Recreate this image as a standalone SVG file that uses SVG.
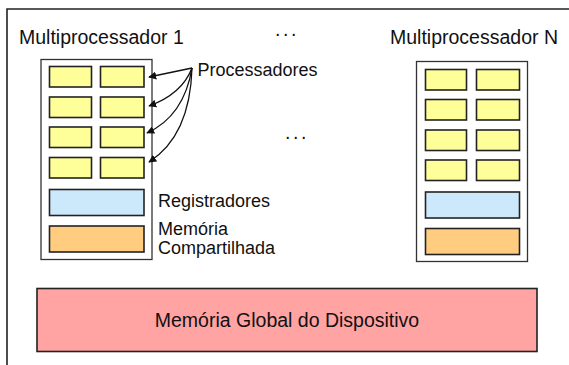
<svg xmlns="http://www.w3.org/2000/svg" width="569" height="365" viewBox="0 0 569 365">
  <style>
    text { font-family: "Liberation Sans", Arial, sans-serif; fill: #111; }
    .title { font-size: 19.5px; }
    .label { font-size: 18px; }
    .dots { font-size: 19.5px; letter-spacing: 2.6px; }
    .frame { fill: none; stroke: #222; stroke-width: 1.6; }
    .mp { fill: #fff; stroke: #333; stroke-width: 1.3; }
    .core { fill: #ffff99; stroke: #222; stroke-width: 1.6; }
    .reg { fill: #cce9fb; stroke: #222; stroke-width: 1.6; }
    .shm { fill: #ffcc80; stroke: #222; stroke-width: 1.6; }
    .glob { fill: #ffa3a3; stroke: #222; stroke-width: 1.6; }
    .arc { fill: none; stroke: #111; stroke-width: 1.3; marker-end: url(#head); }
  </style>
  <defs>
    <marker id="head" viewBox="0 0 10 10" refX="9" refY="5" markerWidth="8" markerHeight="8" markerUnits="userSpaceOnUse" orient="auto">
      <path d="M0,0 L10,5 L0,10 z" fill="#111"/>
    </marker>
  </defs>

  <!-- device frame (open on right and bottom) -->
  <path class="frame" d="M7,365 V9 H569"/>

  <!-- streaming multiprocessor 1 -->
  <g id="mp1">
    <text class="title" x="19" y="44">Multiprocessador 1</text>
    <rect class="mp" x="41" y="59.5" width="111" height="200"/>
    <rect class="core" x="49.5" y="66.5" width="42" height="20.5"/>
    <rect class="core" x="100.5" y="66.5" width="43.5" height="20.5"/>
    <rect class="core" x="49.5" y="97" width="42" height="20.5"/>
    <rect class="core" x="100.5" y="97" width="43.5" height="20.5"/>
    <rect class="core" x="49.5" y="127" width="42" height="20.5"/>
    <rect class="core" x="100.5" y="127" width="43.5" height="20.5"/>
    <rect class="core" x="49.5" y="157.5" width="42" height="20.5"/>
    <rect class="core" x="100.5" y="157.5" width="43.5" height="20.5"/>
    <rect class="reg" x="49.5" y="189.5" width="94.5" height="26"/>
    <rect class="shm" x="49.5" y="226" width="94.5" height="26"/>
  </g>

  <!-- labels beside multiprocessor 1 -->
  <g id="labels">
    <text class="label" x="197.5" y="76">Processadores</text>
    <text class="label" x="158" y="206.5">Registradores</text>
    <text class="label" x="158" y="234.5">Memória</text>
    <text class="label" x="158" y="254">Compartilhada</text>
  </g>

  <!-- ellipses between multiprocessors -->
  <g id="dots">
    <text class="dots" x="275" y="35.5">...</text>
    <text class="dots" x="285" y="138.5">...</text>
  </g>

  <!-- streaming multiprocessor N -->
  <g id="mpN">
    <text class="title" x="390" y="44">Multiprocessador N</text>
    <rect class="mp" x="416.5" y="61.5" width="111" height="200"/>
    <rect class="core" x="425.5" y="69.5" width="41" height="20.5"/>
    <rect class="core" x="476.5" y="69.5" width="43" height="20.5"/>
    <rect class="core" x="425.5" y="99.5" width="41" height="20.5"/>
    <rect class="core" x="476.5" y="99.5" width="43" height="20.5"/>
    <rect class="core" x="425.5" y="130" width="41" height="20.5"/>
    <rect class="core" x="476.5" y="130" width="43" height="20.5"/>
    <rect class="core" x="425.5" y="160" width="41" height="20.5"/>
    <rect class="core" x="476.5" y="160" width="43" height="20.5"/>
    <rect class="reg" x="425.5" y="192" width="94" height="26"/>
    <rect class="shm" x="425.5" y="228.5" width="94" height="26"/>
  </g>

  <!-- global device memory -->
  <g id="global">
    <rect class="glob" x="37" y="288.5" width="500" height="63"/>
    <text class="title" x="287" y="327" text-anchor="middle">Memória Global do Dispositivo</text>
  </g>

  <!-- pointers from the "Processadores" label to the cores -->
  <g id="connectors">
    <path class="arc" d="M192,68 L149,77"/>
    <path class="arc" d="M192,68 Q182,94 149,106"/>
    <path class="arc" d="M192,68 Q184,116 147,133"/>
    <path class="arc" d="M192,68 Q190,136 149,162"/>
  </g>
</svg>
